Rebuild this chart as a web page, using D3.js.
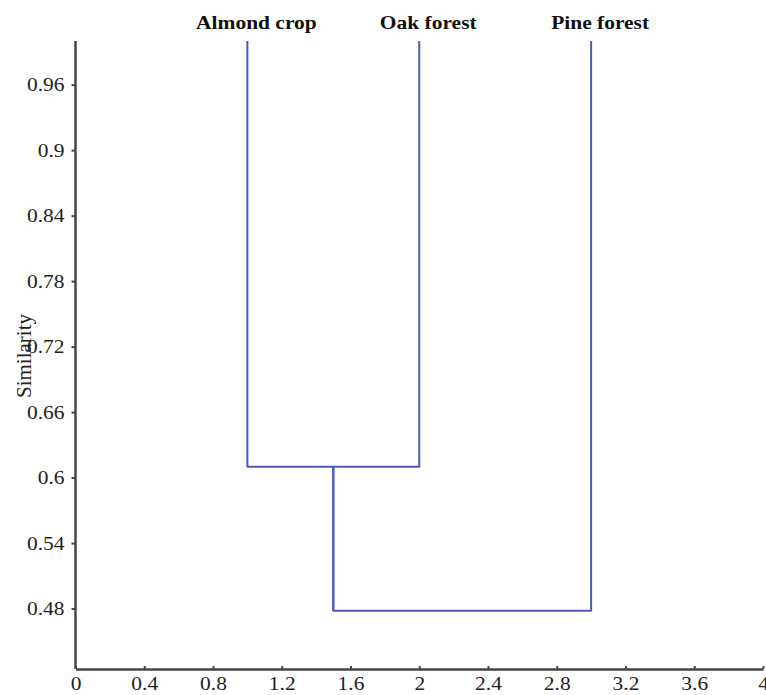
<!DOCTYPE html>
<html>
<head>
<meta charset="utf-8">
<script src="https://cdn.jsdelivr.net/npm/d3@7"></script>
<style>
  body { margin: 0; background: #fff; }
  text { font-family: "Liberation Serif", "DejaVu Serif", serif; }
</style>
</head>
<body>
<div id="chart"></div>
<script>
// leaves of the dendrogram
const leaves = ['Almond crop', 'Oak forest', 'Pine forest'];
const leafX = [1, 2, 3];
// merges: [left x, right x, similarity]
const mergeLeft = [1, 1.5];
const mergeRight = [2, 3];
const mergeSim = [0.61, 0.478];
const mergeChildTop = [[1, 1], [0.61, 1]];

const xTicks = [0, 0.4, 0.8, 1.2, 1.6, 2, 2.4, 2.8, 3.2, 3.6, 4];
const yTicks = [0.48, 0.54, 0.6, 0.66, 0.72, 0.78, 0.84, 0.9, 0.96];

const width = 766, height = 695;
const margin = { top: 41, right: 3, bottom: 26, left: 75.5 };
const stretch = 1.13; // glyphs in the original are a little wide

const svg = d3.select('#chart')
    .append('svg')
    .attr('width', width)
    .attr('height', height);

const x = d3.scaleLinear()
    .domain([0, 4])
    .range([margin.left, width - margin.right]);

const y = d3.scaleLinear()
    .domain([0.4246, 1])
    .range([height - margin.bottom, margin.top]);

const lineColor = '#4a5cb8';

// Dendrogram branches
const g = svg.append('g')
    .attr('fill', 'none')
    .attr('stroke', lineColor)
    .attr('stroke-width', 2)
    .attr('stroke-linejoin', 'round');

mergeSim.forEach((s, i) => {
    const [topL, topR] = mergeChildTop[i];
    g.append('path')
        .attr('d', `M${x(mergeLeft[i])},${y(topL)}V${y(s)}H${x(mergeRight[i])}V${y(topR)}`);
});
// stem from first merge down to second
g.append('path')
    .attr('d', `M${x(mergeLeft[1])},${y(mergeSim[0])}V${y(mergeSim[1])}`);

// Axes
const axisColor = '#444';

const yAxis = svg.append('g')
    .attr('transform', `translate(${margin.left},0)`)
    .call(d3.axisLeft(y).tickValues(yTicks).tickSize(4).tickPadding(5.7).tickFormat(d => +d.toFixed(2)));

const xAxis = svg.append('g')
    .attr('transform', `translate(0,${height - margin.bottom})`)
    .call(d3.axisBottom(x).tickValues(xTicks).tickSizeInner(-3).tickSizeOuter(0).tickPadding(4).tickFormat(d => +d.toFixed(1)));

[xAxis, yAxis].forEach(a => {
    a.select('.domain').attr('stroke', axisColor).attr('stroke-width', 2.5);
    a.selectAll('.tick line').attr('stroke', axisColor).attr('stroke-width', 2);
    a.selectAll('.tick text')
        .attr('fill', '#222')
        .attr('transform', `scale(${stretch},1)`)
        .style('font-family', '"Liberation Serif", serif')
        .style('font-size', '19px');
});
yAxis.select('.domain').attr('d', `M0,${y(1)}V${y(0.4246)}`);
xAxis.selectAll('.tick text').attr('dy', '0.9em');

// Leaf labels
svg.append('g')
    .selectAll('text')
    .data(leaves)
    .join('text')
    .attr('transform', (d, i) => `translate(${x(leafX[i]) + 9},29) scale(${stretch},1)`)
    .attr('text-anchor', 'middle')
    .attr('fill', '#111')
    .style('font-weight', 'bold')
    .style('font-size', '19px')
    .text(d => d);

// Axis title
svg.append('text')
    .attr('transform', `translate(31,356) rotate(-90)`)
    .attr('text-anchor', 'middle')
    .attr('fill', '#222')
    .style('font-size', '21px')
    .text('Similarity');
</script>
</body>
</html>
